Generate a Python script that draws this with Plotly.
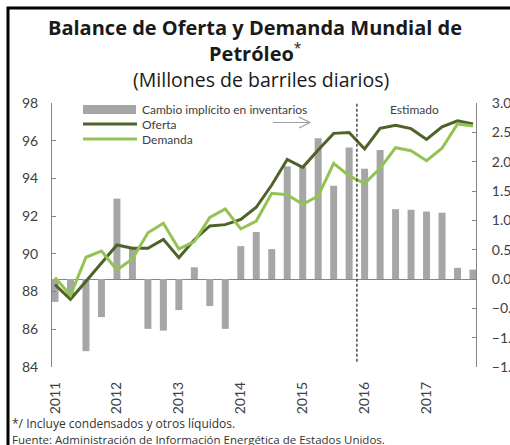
import plotly.graph_objects as go

# ---- data ----
quarters = ["2011T1", "2011T2", "2011T3", "2011T4", "2012T1", "2012T2", "2012T3", "2012T4",
            "2013T1", "2013T2", "2013T3", "2013T4", "2014T1", "2014T2", "2014T3", "2014T4",
            "2015T1", "2015T2", "2015T3", "2015T4", "2016T1", "2016T2", "2016T3", "2016T4",
            "2017T1", "2017T2", "2017T3", "2017T4"]
inventarios = [-0.39, -0.28, -1.23, -0.65, 1.37, 0.52, -0.85, -0.88,
               -0.53, 0.20, -0.46, -0.85, 0.56, 0.80, 0.51, 1.92,
               1.91, 2.40, 1.59, 2.24, 1.88, 2.20, 1.19, 1.18,
               1.15, 1.13, 0.19, 0.16]
oferta = [88.37, 87.59, 88.55, 89.50, 90.47, 90.30, 90.30, 90.77,
          89.80, 90.75, 91.48, 91.55, 91.83, 92.47, 93.65, 95.01,
          94.59, 95.51, 96.39, 96.44, 95.56, 96.66, 96.82, 96.64,
          96.07, 96.74, 97.06, 96.89]
demanda = [88.75, 87.80, 89.82, 90.15, 89.14, 89.73, 91.12, 91.62,
           90.26, 90.65, 91.93, 92.38, 91.32, 91.74, 93.21, 93.13,
           92.63, 93.07, 94.80, 94.13, 93.74, 94.54, 95.63, 95.47,
           94.94, 95.60, 96.89, 96.78]
year_labels = ["2011", "2012", "2013", "2014", "2015", "2016", "2017"]
year_first_quarter = ["2011T1", "2012T1", "2013T1", "2014T1", "2015T1", "2016T1", "2017T1"]
estimado_desde = "2016T1"

# ---- styling ----
FONT = "Lato"
TFONT = "Open Sans"
TXT = "#404040"
AX = "#868686"
BAR = "#A6A6A6"
DARK = "#4F6228"
LIGHT = "#92C353"

W, H = 510, 445
L, R, T, B = 52, 34, 103, 78
PW, PH = W - L - R, H - T - B

def px(xp):
    return (xp - L) / PW

def py(yp):
    return (H - B - yp) / PH

xpos = list(range(len(quarters)))
idx = {q: i for i, q in enumerate(quarters)}

fig = go.Figure()
fig.add_trace(go.Bar(x=xpos, y=inventarios, name="Cambio implícito en inventarios",
                     marker=dict(color=BAR, line=dict(width=0)), width=0.45,
                     yaxis="y", showlegend=False))
fig.add_trace(go.Scatter(x=xpos, y=oferta, name="Oferta", mode="lines",
                         line=dict(color=DARK, width=3), yaxis="y2", showlegend=False))
fig.add_trace(go.Scatter(x=xpos, y=demanda, name="Demanda", mode="lines",
                         line=dict(color=LIGHT, width=3), yaxis="y2", showlegend=False))

shapes = []
# dashed separator for estimates
sep = idx[estimado_desde] - 0.5
shapes.append(dict(type="line", xref="x", yref="paper", x0=sep, x1=sep, y0=0.02, y1=1.0,
                   line=dict(color="#333333", width=1.3, dash="3px,2px")))
# outer frame (left & top edges visible)
shapes.append(dict(type="rect", xref="paper", yref="paper", x0=px(8), x1=px(530),
                   y0=py(470), y1=py(8), line=dict(color="black", width=3)))
# legend swatches
shapes.append(dict(type="rect", xref="paper", yref="paper", x0=px(83), x1=px(136),
                   y0=py(114), y1=py(105), fillcolor=BAR, line=dict(width=0)))
shapes.append(dict(type="line", xref="paper", yref="paper", x0=px(83), x1=px(137),
                   y0=py(124), y1=py(124), line=dict(color=DARK, width=3)))
shapes.append(dict(type="line", xref="paper", yref="paper", x0=px(83), x1=px(137),
                   y0=py(139), y1=py(139), line=dict(color=LIGHT, width=3)))
# grey arrow pointing to right axis
shapes.append(dict(type="line", xref="paper", yref="paper", x0=px(273), x1=px(310),
                   y0=py(122.5), y1=py(122.5), line=dict(color="#A0A0A0", width=1.2)))
shapes.append(dict(type="path", xref="paper", yref="paper",
                   path=f"M {px(299)} {py(117)} L {px(310)} {py(122.5)} L {px(299)} {py(128)}",
                   line=dict(color="#A0A0A0", width=1.2)))

ann = []
def text(s, xp, yp, size, color=TXT, xanchor="left", yanchor="middle", family=FONT):
    ann.append(dict(text=s, xref="paper", yref="paper", x=px(xp), y=py(yp), showarrow=False,
                    xanchor=xanchor, yanchor=yanchor, font=dict(family=family, size=size, color=color)))

text("<b>Balance de Oferta y Demanda Mundial de</b>", 255, 27.5, 20, "#1a1a1a", "center", family=TFONT)
text("<b>Petróleo</b><sup>*</sup>", 255, 52.5, 20, "#1a1a1a", "center", family=TFONT)
text("(Millones de barriles diarios)", 261, 79.5, 19.5, "#1a1a1a", "center", family=TFONT)
text("Cambio implícito en inventarios", 140, 109.5, 12)
text("Oferta", 140, 124.5, 12)
text("Demanda", 140, 139.5, 12)
text("*/ Incluye condensados y otros líquidos.", 10, 423.5, 12, "#333333", family=TFONT)
text("Fuente: Administración de Información Energética de Estados Unidos.", 10, 439.5, 11.5, "#333333", family=TFONT)
ann.append(dict(text="Estimado", xref="x", yref="paper", x=idx["2017T1"] - 0.75, y=py(109),
                showarrow=False, xanchor="center", yanchor="middle",
                font=dict(family=FONT, size=12, color=TXT)))

fig.update_layout(
    width=W, height=H, margin=dict(l=L, r=R, t=T, b=B, pad=0),
    paper_bgcolor="white", plot_bgcolor="white",
    font=dict(family=FONT, size=13, color=TXT),
    bargap=0.5, showlegend=False,
    shapes=shapes, annotations=ann,
    xaxis=dict(range=[-0.194, 27.194], tickvals=[idx[q] for q in year_first_quarter],
               ticktext=year_labels, tickangle=-90, showgrid=False, zeroline=False,
               showline=False, ticks="", ticklabelstandoff=11,
               tickfont=dict(family=FONT, size=14, color=TXT)),
    yaxis=dict(side="right", range=[-1.5, 3.0], dtick=0.5, tick0=0, tickformat=".1f",
               showgrid=False, showline=True, linecolor=AX, linewidth=1,
               ticks="inside", ticklen=4, tickcolor=AX,
               zeroline=True, zerolinecolor=AX, zerolinewidth=1,
               automargin=False, ticklabelstandoff=12,
               tickfont=dict(family=FONT, size=14, color=TXT)),
    yaxis2=dict(overlaying="y", side="left", range=[84, 98], dtick=2,
                showgrid=False, showline=True, linecolor=AX, linewidth=1,
                ticks="inside", ticklen=4, tickcolor=AX, zeroline=False,
                automargin=False, ticklabelstandoff=10,
                tickfont=dict(family=FONT, size=14, color=TXT)),
)

fig.write_html("out.html", config={"displayModeBar": False},
               post_script="document.body.style.margin='0';document.body.style.overflow='hidden';")
